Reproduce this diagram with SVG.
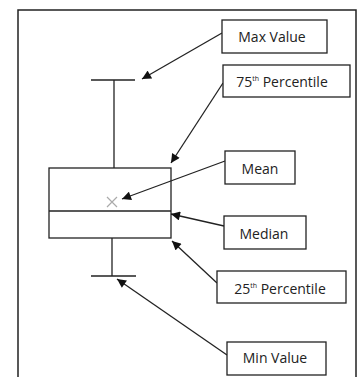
<svg xmlns="http://www.w3.org/2000/svg" width="361" height="377" viewBox="0 0 361 377">
<defs>
<style>
.frame{fill:none;stroke:#222;stroke-width:1.5}
.lbl{fill:#fff;stroke:#222;stroke-width:1.3}
.txt{font-family:"Open Sans","Liberation Sans",sans-serif;font-size:14px;fill:#222;text-anchor:middle}
.sup{font-size:7px}
.ln{stroke:#222;stroke-width:1.3;fill:none}
.arr{stroke:#222;stroke-width:1.3;fill:none;marker-end:url(#ah)}
</style>
<marker id="ah" viewBox="0 0 10 10" refX="10" refY="5" markerWidth="10" markerHeight="9" markerUnits="userSpaceOnUse" orient="auto">
<path d="M0,0 L10,5 L0,10 z" fill="#111"/>
</marker>
</defs>
<rect width="361" height="377" fill="#fff"/>
<path class="frame" d="M18,380 V10 H356 V380"/>
<g id="boxplot">
<line class="ln" x1="91" y1="80" x2="135" y2="80"/>
<line class="ln" x1="114" y1="80" x2="114" y2="168"/>
<rect class="ln" x="49" y="168" width="122" height="70"/>
<line class="ln" x1="49" y1="211" x2="171" y2="211"/>
<line class="ln" x1="112" y1="238" x2="112" y2="276"/>
<line class="ln" x1="91" y1="276" x2="136" y2="276"/>
<path d="M107,197 L117,207 M117,197 L107,207" stroke="#aaa" stroke-width="1.2"/>
</g>
<g id="connectors">
<line class="arr" x1="222" y1="33" x2="142" y2="79"/>
<line class="arr" x1="223" y1="83" x2="171" y2="163"/>
<line class="arr" x1="225" y1="161" x2="122" y2="199"/>
<line class="arr" x1="224" y1="226" x2="171" y2="214"/>
<line class="arr" x1="217" y1="283" x2="172" y2="241"/>
<line class="arr" x1="227" y1="355" x2="117" y2="279"/>
</g>
<g id="max"><rect class="lbl" x="222" y="20" width="105" height="33"/><text class="txt" x="272" y="42">Max Value</text></g>
<g id="p75"><rect class="lbl" x="223" y="65" width="127" height="32"/><text class="txt" x="282" y="87">75<tspan class="sup" dy="-6">th</tspan><tspan dy="6"> Percentile</tspan></text></g>
<g id="mean"><rect class="lbl" x="225" y="151" width="70" height="33"/><text class="txt" x="260" y="174">Mean</text></g>
<g id="median"><rect class="lbl" x="224" y="216" width="82" height="33"/><text class="txt" x="264" y="239">Median</text></g>
<g id="p25"><rect class="lbl" x="217" y="271" width="129" height="32"/><text class="txt" x="280" y="294">25<tspan class="sup" dy="-6">th</tspan><tspan dy="6"> Percentile</tspan></text></g>
<g id="min"><rect class="lbl" x="227" y="342" width="99" height="33"/><text class="txt" x="275" y="363">Min Value</text></g>
</svg>
